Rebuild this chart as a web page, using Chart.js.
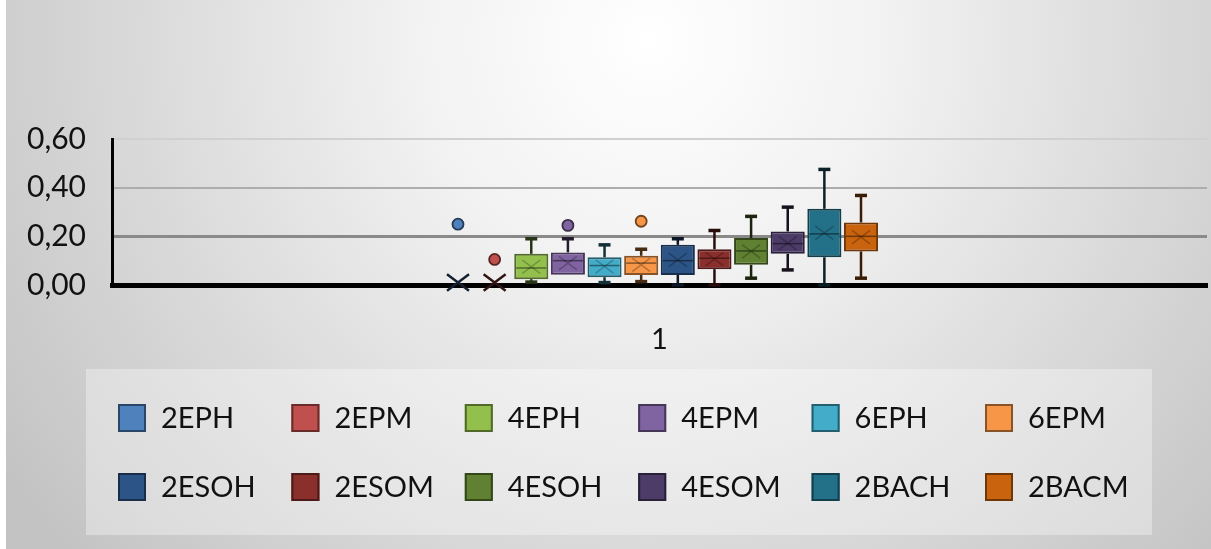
<!DOCTYPE html>
<html>
<head>
<meta charset="utf-8">
<title>Box plot by group</title>
<script src="https://cdn.jsdelivr.net/npm/chart.js@4.4.1/dist/chart.umd.min.js"></script>
<style>
  html, body { margin: 0; padding: 0; background: #ffffff; }
  #wrap { position: relative; width: 1211px; height: 549px; }
</style>
</head>
<body>
<div id="wrap"><canvas id="chart"></canvas></div>
<script>
// ---- data ----
const categories = ['1'];
const groupNames = ['2EPH', '2EPM', '4EPH', '4EPM', '6EPH', '6EPM',
                    '2ESOH', '2ESOM', '4ESOH', '4ESOM', '2BACH', '2BACM'];
const minValues    = [0.000, 0.000, 0.012, 0.042, 0.010, 0.014, 0.000, 0.000, 0.028, 0.062, 0.000, 0.028];
const q1Values     = [0.000, 0.000, 0.024, 0.042, 0.032, 0.041, 0.041, 0.065, 0.083, 0.128, 0.114, 0.138];
const medianValues = [0.000, 0.000, 0.070, 0.100, 0.080, 0.090, 0.100, 0.110, 0.140, 0.170, 0.210, 0.200];
const q3Values     = [0.000, 0.000, 0.128, 0.134, 0.114, 0.120, 0.165, 0.147, 0.193, 0.220, 0.313, 0.257];
const maxValues    = [0.000, 0.000, 0.190, 0.190, 0.165, 0.147, 0.190, 0.224, 0.282, 0.320, 0.475, 0.368];
const meanValues   = [0.010, 0.010, 0.075, 0.090, 0.076, 0.083, 0.103, 0.106, 0.138, 0.172, 0.214, 0.197];
const outlierValues = [[0.250], [0.105], [], [0.245], [], [0.262], [], [], [], [], [], []];
const yTickValues = [0, 0.2, 0.4, 0.6];

// ---- styles ----
const seriesColors = ['#4f81bd', '#c0504d', '#93c04c', '#8064a2', '#43acc9', '#f79646',
                      '#2c5487', '#8a2f2c', '#5f8131', '#4d3b68', '#237189', '#c9630e'];
const FONT = "Lato, 'Open Sans', 'Liberation Sans', sans-serif";

function shade(hex, f) {
  const n = parseInt(hex.slice(1), 16);
  const r = Math.round(((n >> 16) & 255) * (1 - f));
  const g = Math.round(((n >> 8) & 255) * (1 - f));
  const b = Math.round((n & 255) * (1 - f));
  return 'rgb(' + r + ',' + g + ',' + b + ')';
}

// grey sheet behind everything, lighter at the top centre
const sheetBackground = {
  id: 'sheetBackground',
  beforeDraw(chart) {
    const { ctx, width, height } = chart;
    ctx.save();
    const g = ctx.createRadialGradient(650, 40, 0, 650, 40, 780);
    g.addColorStop(0, '#ffffff');
    g.addColorStop(0.3, '#f2f2f2');
    g.addColorStop(0.65, '#dadada');
    g.addColorStop(1, '#c3c3c3');
    ctx.fillStyle = g;
    ctx.fillRect(0, 0, width, height);
    ctx.fillStyle = '#ffffff';
    ctx.fillRect(0, 0, 6, height);
    // legend panel
    ctx.fillStyle = 'rgba(255,255,255,0.34)';
    ctx.fillRect(86, 369, 1066, 166);
    ctx.restore();
  }
};

// whiskers, medians, means and outliers on top of the quartile boxes
const boxPlotExtras = {
  id: 'boxPlotExtras',
  afterDatasetsDraw(chart) {
    const ctx = chart.ctx;
    const yScale = chart.scales.y;
    const py = v => yScale.getPixelForValue(v);
    chart.data.datasets.forEach((ds, i) => {
      const bar = chart.getDatasetMeta(i).data[0];
      if (!bar) return;
      const cx = bar.x;
      const half = bar.width / 2;
      const base = seriesColors[i];
      const whisker = shade(base, 0.72);
      const drawWhisker = (from, to) => {
        ctx.strokeStyle = whisker;
        ctx.lineWidth = 2.5;
        ctx.beginPath();
        ctx.moveTo(cx, py(from));
        ctx.lineTo(cx, py(to));
        ctx.stroke();
        ctx.lineWidth = 3.5;
        ctx.beginPath();
        ctx.moveTo(cx - 6, py(to));
        ctx.lineTo(cx + 6, py(to));
        ctx.stroke();
      };
      ctx.save();
      ctx.lineCap = 'butt';
      if (maxValues[i] > q3Values[i]) drawWhisker(q3Values[i], maxValues[i]);
      if (minValues[i] < q1Values[i]) drawWhisker(q1Values[i], minValues[i]);
      // median
      const boxed = q3Values[i] > q1Values[i];
      if (boxed) {
        ctx.strokeStyle = shade(base, 0.45);
        ctx.lineWidth = 1.5;
        ctx.beginPath();
        ctx.moveTo(cx - half + 2, py(medianValues[i]));
        ctx.lineTo(cx + half - 2, py(medianValues[i]));
        ctx.stroke();
      }
      // mean marker (X)
      const my = py(meanValues[i]);
      const r = boxed ? 9 : 11;
      ctx.strokeStyle = boxed ? 'rgba(0,0,0,0.25)' : shade(base, 0.75);
      ctx.lineWidth = boxed ? 1.5 : 2.5;
      ctx.beginPath();
      ctx.moveTo(cx - r, my - r * 0.75);
      ctx.lineTo(cx + r, my + r * 0.75);
      ctx.moveTo(cx - r, my + r * 0.75);
      ctx.lineTo(cx + r, my - r * 0.75);
      ctx.stroke();
      // outliers
      outlierValues[i].forEach(v => {
        ctx.beginPath();
        ctx.arc(cx, py(v), 5.5, 0, Math.PI * 2);
        ctx.fillStyle = base;
        ctx.fill();
        ctx.lineWidth = 1.8;
        ctx.strokeStyle = shade(base, 0.55);
        ctx.stroke();
      });
      ctx.restore();
    });
  }
};

// two-row legend laid out on a fixed grid
const gridLegend = {
  id: 'gridLegend',
  afterDraw(chart) {
    const ctx = chart.ctx;
    const cols = 6;
    const colX = 118, colStep = 173.4;
    const rowY = [418, 487];
    ctx.save();
    ctx.font = '29px ' + FONT;
    ctx.textBaseline = 'middle';
    ctx.textAlign = 'left';
    chart.data.datasets.forEach((ds, i) => {
      const x = colX + (i % cols) * colStep;
      const y = rowY[Math.floor(i / cols)];
      ctx.fillStyle = seriesColors[i];
      ctx.fillRect(x, y - 14, 28, 28);
      ctx.lineWidth = 2;
      ctx.strokeStyle = shade(seriesColors[i], 0.45);
      ctx.strokeRect(x + 1, y - 13, 26, 26);
      ctx.fillStyle = '#111111';
      ctx.fillText(ds.label, x + 43, y + 1);
    });
    ctx.restore();
  }
};

const datasets = groupNames.map((name, i) => ({
  label: name,
  data: [[q1Values[i], q3Values[i]]],
  backgroundColor: seriesColors[i],
  borderColor: shade(seriesColors[i], 0.45),
  borderWidth: 2,
  borderSkipped: false,
  categoryPercentage: 0.4015,
  barPercentage: 0.93
}));

const gridColors = { 0: 'rgba(0,0,0,0)', 0.2: '#8a8a8a', 0.4: '#adadad', 0.6: '#d0d0d0' };
const gridWidths = { 0: 0, 0.2: 3, 0.4: 2, 0.6: 2 };

new Chart(document.getElementById('chart'), {
  type: 'bar',
  data: { labels: categories, datasets },
  plugins: [sheetBackground, boxPlotExtras, gridLegend],
  options: {
    responsive: true,
    maintainAspectRatio: false,
    animation: false,
    layout: { padding: { top: 139, right: 4, bottom: 0, left: 0 } },
    plugins: { legend: { display: false }, tooltip: { enabled: false } },
    scales: {
      x: {
        grid: { display: false },
        border: { display: true, color: '#000000', width: 5 },
        ticks: { color: '#111111', font: { family: FONT, size: 29 }, padding: 29 },
        afterFit(scale) { scale.height = 264; }
      },
      y: {
        min: 0,
        max: 0.6,
        afterBuildTicks(scale) { scale.ticks = yTickValues.map(v => ({ value: v })); },
        grid: {
          drawTicks: false,
          color: c => gridColors[c.tick ? +c.tick.value.toFixed(1) : 0] || '#b0b0b0',
          lineWidth: c => gridWidths[c.tick ? +c.tick.value.toFixed(1) : 0]
        },
        border: { display: true, color: '#000000', width: 3 },
        ticks: {
          color: '#111111',
          font: { family: FONT, size: 30 },
          padding: 26,
          callback: v => v.toFixed(2).replace('.', ',')
        },
        afterFit(scale) { scale.width = 112; }
      }
    }
  }
});
</script>
</body>
</html>
